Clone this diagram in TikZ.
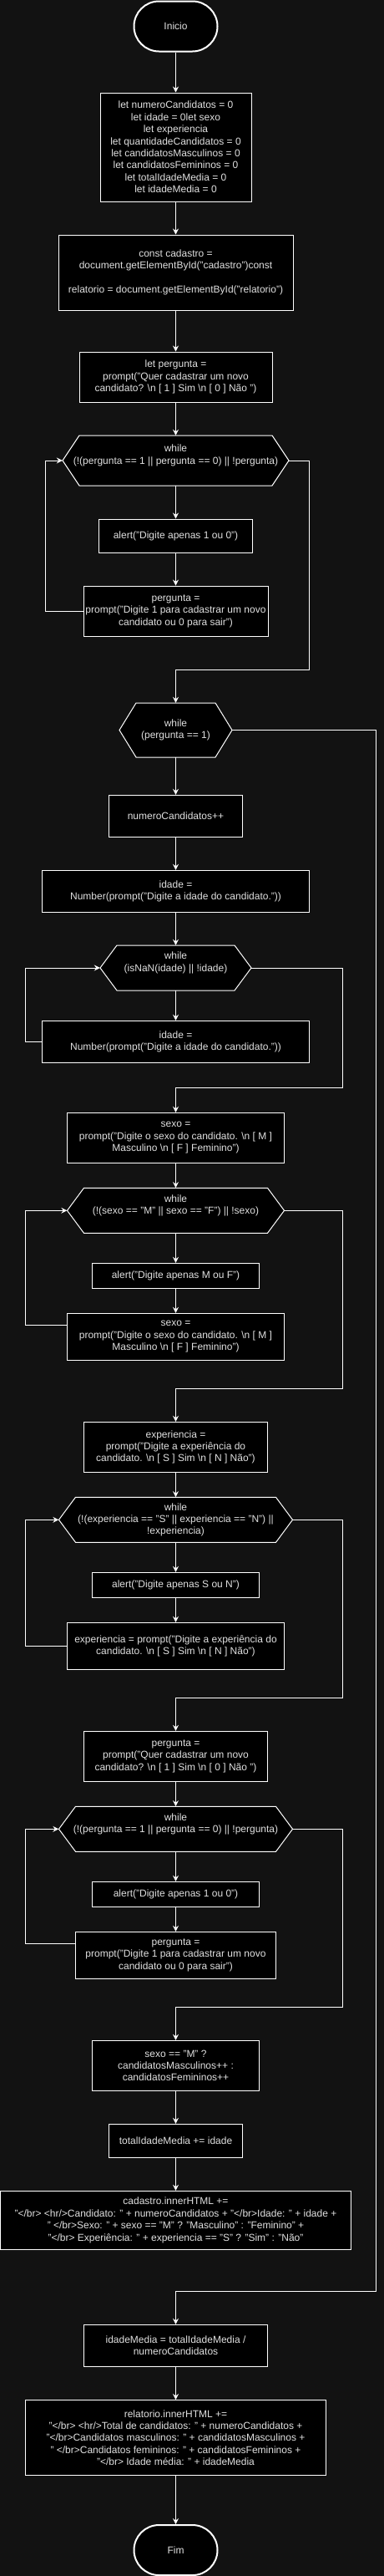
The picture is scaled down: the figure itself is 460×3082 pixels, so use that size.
\documentclass[tikz,border=0pt]{standalone}
\usepackage{fontspec}
\setmainfont{Liberation Sans}
\usetikzlibrary{arrows.meta}
\definecolor{bg}{HTML}{121212}
\definecolor{txt}{HTML}{E0E0E0}
\newcommand{\bsn}{\textbackslash n}
\tikzset{
  box/.style={draw=white, fill=black, line width=1pt, text=txt, align=center,
    font=\fontsize{12}{14.4}\selectfont, inner sep=0pt},
  term/.style={box, line width=2pt, rounded corners=30pt, minimum width=100pt, minimum height=60pt},
  hexbg/.style={draw=white, fill=black, line width=1pt},
  hextext/.style={text=txt, align=center, font=\fontsize{12}{14.4}\selectfont, inner sep=0pt},
  arr/.style={draw=white, line width=1pt, -{Stealth[length=7pt,width=7pt,inset=2.5pt]}},
}
\newcommand{\hexnode}[6]{%
  \path[hexbg] ({#2-#4/2},{#3}) -- ({#2-#4/2+20},{#3-#5/2}) -- ({#2+#4/2-20},{#3-#5/2}) -- ({#2+#4/2},{#3}) -- ({#2+#4/2-20},{#3+#5/2}) -- ({#2-#4/2+20},{#3+#5/2}) -- cycle;
  \node[hextext, minimum width=#4pt, minimum height=#5pt] (#1) at (#2,#3) {#6};}
\begin{document}
\begin{tikzpicture}[x=1pt, y=-1pt]
\useasboundingbox (0,0) rectangle (460,3082);
\fill[bg] (0,0) rectangle (460,3082);

\node[term] (inicio) at (210.5,31.5) {Inicio};
\node[box, minimum width=181pt, minimum height=130pt] (b1) at (210.5,176) {let numeroCandidatos = 0\\let idade = 0let sexo\\let experiencia\\let quantidadeCandidatos = 0\\let candidatosMasculinos = 0\\let candidatosFemininos = 0\\let totalIdadeMedia = 0\\let idadeMedia = 0};
\node[box, minimum width=281pt, minimum height=90pt] (b2) at (210.5,326) {const cadastro =\\document.getElementById("cadastro")const\\[14.4pt]relatorio = document.getElementById("relatorio")};
\node[box, minimum width=231pt, minimum height=60pt] (b3) at (210.5,451) {let pergunta =\\prompt("Quer cadastrar um novo\\candidato? \bsn{} [ 1 ] Sim \bsn{} [ 0 ] Não ")};
\hexnode{hex1}{210.5}{551}{271}{60}{while\\(!(pergunta == 1 || pergunta == 0) || !pergunta)\\\mbox{}}
\node[box, minimum width=184pt, minimum height=40pt] (al1) at (210.5,641) {alert("Digite apenas 1 ou 0")};
\node[box, minimum width=221pt, minimum height=60pt] (pl1) at (210.5,731) {pergunta =\\prompt("Digite 1 para cadastrar um novo\\candidato ou 0 para sair")};
\hexnode{hex2}{210.5}{873.5}{135}{65}{while\\(pergunta == 1)}
\node[box, minimum width=160pt, minimum height=50pt] (nc) at (210.5,976.3) {numeroCandidatos++};
\node[box, minimum width=320pt, minimum height=50pt] (id1) at (210.5,1066.3) {idade =\\Number(prompt("Digite a idade do candidato."))};
\hexnode{hex3}{210.5}{1158}{181}{54}{while\\(isNaN(idade) || !idade)\\\mbox{}}
\node[box, minimum width=320pt, minimum height=50pt] (id2) at (210.5,1246.3) {idade =\\Number(prompt("Digite a idade do candidato."))};
\node[box, minimum width=260pt, minimum height=60pt] (sx1) at (210.5,1361.3) {sexo =\\prompt("Digite o sexo do candidato. \bsn{} [ M ]\\Masculino \bsn{} [ F ] Feminino")};
\hexnode{hex4}{210.5}{1448.3}{260}{54}{while\\(!(sexo == "M" || sexo == "F") || !sexo)\\\mbox{}}
\node[box, minimum width=200pt, minimum height=30pt] (al2) at (210.5,1526.3) {alert("Digite apenas M ou F")};
\node[box, minimum width=260pt, minimum height=56pt] (sx2) at (210.5,1599.3) {sexo =\\prompt("Digite o sexo do candidato. \bsn{} [ M ]\\Masculino \bsn{} [ F ] Feminino")};
\node[box, minimum width=220pt, minimum height=60pt] (ex1) at (210.5,1731.3) {experiencia =\\prompt("Digite a experiência do\\candidato. \bsn{} [ S ] Sim \bsn{} [ N ] Não")};
\hexnode{hex5}{210.5}{1818.3}{280}{54}{while\\(!(experiencia == "S" || experiencia == "N") ||\\!experiencia)}
\node[box, minimum width=200pt, minimum height=30pt] (al3) at (210.5,1896.3) {alert("Digite apenas S ou N")};
\node[box, minimum width=260pt, minimum height=56pt] (ex2) at (210.5,1969.3) {experiencia = prompt("Digite a experiência do\\candidato. \bsn{} [ S ] Sim \bsn{} [ N ] Não")};
\node[box, minimum width=220pt, minimum height=60pt] (pg2) at (210.5,2101.3) {pergunta =\\prompt("Quer cadastrar um novo\\candidato? \bsn{} [ 1 ] Sim \bsn{} [ 0 ] Não ")};
\hexnode{hex6}{210.5}{2188.3}{280}{54}{while\\(!(pergunta == 1 || pergunta == 0) || !pergunta)\\\mbox{}}
\node[box, minimum width=200pt, minimum height=30pt] (al4) at (210.5,2266.3) {alert("Digite apenas 1 ou 0")};
\node[box, minimum width=240pt, minimum height=56pt] (pl2) at (210.5,2339.3) {pergunta =\\prompt("Digite 1 para cadastrar um novo\\candidato ou 0 para sair")};
\node[box, minimum width=200pt, minimum height=60pt] (tern) at (210.5,2471.3) {sexo == "M" ?\\candidatosMasculinos++ :\\candidatosFemininos++};
\node[box, minimum width=160pt, minimum height=40pt] (tot) at (210.5,2561.3) {totalIdadeMedia += idade};
\node[box, minimum width=420pt, minimum height=70pt] (cad) at (210.5,2656.3) {cadastro.innerHTML +=\\"</br> <hr/>Candidato: " + numeroCandidatos + "</br>Idade: " + idade +\\" </br>Sexo: " + sexo == "M" ? "Masculino" : "Feminino" +\\"</br> Experiência: " + experiencia == "S" ? "Sim" : "Não"};
\node[box, minimum width=220pt, minimum height=50pt] (im) at (210.5,2806.3) {idadeMedia = totalIdadeMedia /\\numeroCandidatos};
\node[box, minimum width=360pt, minimum height=90pt] (rel) at (210.5,2916.5) {relatorio.innerHTML +=\\"</br> <hr/>Total de candidatos: " + numeroCandidatos +\\"</br>Candidatos masculinos: " + candidatosMasculinos +\\" </br>Candidatos femininos: " + candidatosFemininos +\\"</br> Idade média: " + idadeMedia};
\node[term] (fim) at (210.5,3051) {Fim};

\draw[arr] (inicio.south) -- (b1.north);
\draw[arr] (b1.south) -- (b2.north);
\draw[arr] (b2.south) -- (b3.north);
\draw[arr] (b3.south) -- (hex1.north);
\draw[arr] (hex1.south) -- (al1.north);
\draw[arr] (al1.south) -- (pl1.north);
\draw[arr] (pl1.west) -- (54.3,731) |- (hex1.west);
\draw[arr] (hex1.east) -| (370.7,801.3) -| (hex2.north);
\draw[arr] (hex2.south) -- (nc.north);
\draw[arr] (nc.south) -- (id1.north);
\draw[arr] (id1.south) -- (hex3.north);
\draw[arr] (hex3.south) -- (id2.north);
\draw[arr] (id2.west) -- (30.3,1246.3) |- (hex3.west);
\draw[arr] (hex3.east) -| (410.3,1301) -| (sx1.north);
\draw[arr] (sx1.south) -- (hex4.north);
\draw[arr] (hex4.south) -- (al2.north);
\draw[arr] (al2.south) -- (sx2.north);
\draw[arr] ([yshift=14pt]sx2.west) -- (30.3,1585.3) |- (hex4.west);
\draw[arr] (hex4.east) -| (410.3,1661) -| (ex1.north);
\draw[arr] (ex1.south) -- (hex5.north);
\draw[arr] (hex5.south) -- (al3.north);
\draw[arr] (al3.south) -- (ex2.north);
\draw[arr] (ex2.west) -- (30.3,1969.3) |- (hex5.west);
\draw[arr] (hex5.east) -| (410.3,2031) -| (pg2.north);
\draw[arr] (pg2.south) -- (hex6.north);
\draw[arr] (hex6.south) -- (al4.north);
\draw[arr] (al4.south) -- (pl2.north);
\draw[arr] ([yshift=14pt]pl2.west) -- (30.3,2325.3) |- (hex6.west);
\draw[arr] (hex6.east) -| (410.3,2401.3) -| (tern.north);
\draw[arr] (tern.south) -- (tot.north);
\draw[arr] (tot.south) -- (cad.north);
\draw[arr] (hex2.east) -| (450.7,2741.3) -| (im.north);
\draw[arr] (im.south) -- (rel.north);
\draw[arr] (rel.south) -- (fim.north);
\end{tikzpicture}
\end{document}
